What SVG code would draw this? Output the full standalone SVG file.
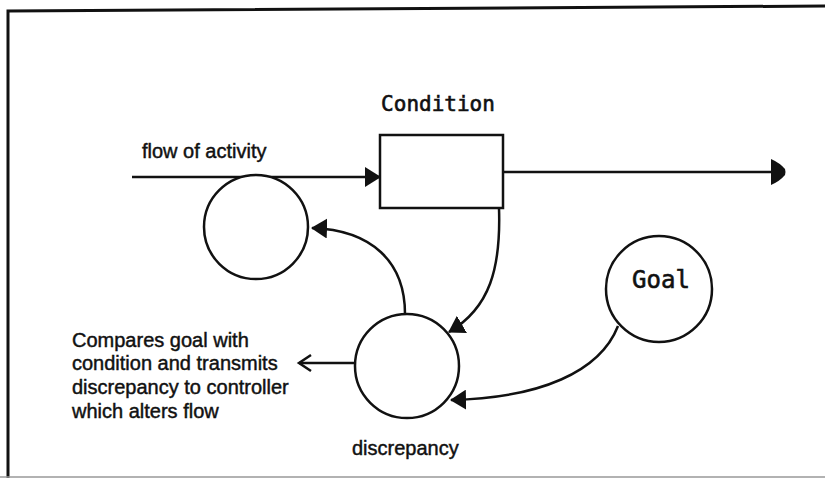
<svg xmlns="http://www.w3.org/2000/svg" width="825" height="478" viewBox="0 0 825 478">
  <style>
    .frame { fill: none; stroke: #111; stroke-width: 3; }
    .edge { fill: none; stroke: #111; stroke-width: 2.5; }
    .node { fill: #fff; stroke: #111; stroke-width: 2.5; }
    .sans { font-family: "Liberation Sans", Arial, sans-serif; font-size: 20px; fill: #111; stroke: #111; stroke-width: 0.45; }
    .mono { font-family: "DejaVu Sans Mono", "Liberation Mono", monospace; fill: #111; stroke: #111; stroke-width: 0.6; }
  </style>
  <defs>
    <marker id="head" viewBox="0 0 16 20" refX="15" refY="10" markerWidth="16" markerHeight="20" markerUnits="userSpaceOnUse" orient="auto">
      <path d="M0,0 L16,10 L0,20 Z" fill="#111"/>
    </marker>
    <marker id="bullet" viewBox="0 0 16 26" refX="15" refY="13" markerWidth="16" markerHeight="26" markerUnits="userSpaceOnUse" orient="auto">
      <path d="M1,0 Q10,4 15,10 Q16,13 15,16 Q10,22 1,26 Z" fill="#111"/>
    </marker>
  </defs>

  <rect width="825" height="478" fill="#fff"/>

  <!-- page frame -->
  <g id="frame">
    <path class="frame" d="M8,478 L8,11 L825,6"/>
    <line x1="0" y1="477" x2="825" y2="477" stroke="#999" stroke-width="1.5"/>
  </g>

  <!-- connectors -->
  <g id="connectors">
    <path class="edge" d="M132,177 L380,177" marker-end="url(#head)"/>
    <path class="edge" d="M503,172 L785,172" marker-end="url(#bullet)"/>
    <path class="edge" d="M405,314 C405,262 372,230 312,228" marker-end="url(#head)"/>
    <path class="edge" d="M499,208 C501,268 490,308 449,332" marker-end="url(#head)"/>
    <path class="edge" d="M618,326 C600,372 540,398 451,400" marker-end="url(#head)"/>
    <path class="edge" d="M355,363 L299,363"/>
    <polyline class="edge" points="311,355 299,363 311,371"/>
  </g>

  <g id="condition">
    <rect class="node" x="380" y="135" width="123" height="73"/>
    <text class="mono" x="438" y="111" font-size="21" text-anchor="middle">Condition</text>
  </g>

  <g id="controller">
    <circle class="node" cx="256" cy="227" r="52"/>
  </g>

  <g id="comparator">
    <circle class="node" cx="407" cy="366" r="52"/>
    <text class="sans" x="352" y="455">discrepancy</text>
  </g>

  <g id="goal">
    <circle class="node" cx="659" cy="289" r="53"/>
    <text class="mono" x="661" y="288" font-size="24" text-anchor="middle">Goal</text>
  </g>

  <g id="labels">
    <text class="sans" x="142" y="158">flow of activity</text>
    <text class="sans" x="72" y="347">Compares goal with</text>
    <text class="sans" x="72" y="370">condition and transmits</text>
    <text class="sans" x="72" y="394">discrepancy to controller</text>
    <text class="sans" x="72" y="418">which alters flow</text>
  </g>
</svg>
